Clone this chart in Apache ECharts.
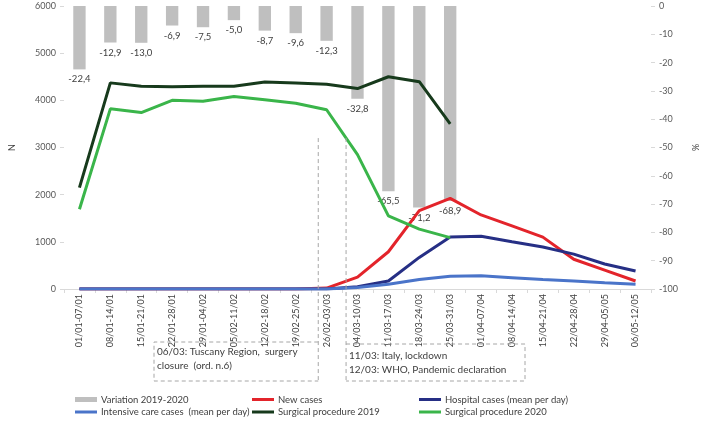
<!DOCTYPE html>
<html>
<head>
<meta charset="utf-8">
<script src="https://cdn.jsdelivr.net/npm/echarts@6/dist/echarts.min.js"></script>
<style>html,body{margin:0;padding:0;background:#fff}#c{width:709px;height:421px}</style>
</head>
<body>
<div id="c"></div>
<script>
const categories = ['01/01-07/01','08/01-14/01','15/01-21/01','22/01-28/01','29/01-04/02','05/02-11/02','12/02-18/02','19/02-25/02','26/02-03/03','04/03-10/03','11/03-17/03','18/03-24/03','25/03-31/03','01/04-07/04','08/04-14/04','15/04-21/04','22/04-28/04','29/04-05/05','06/05-12/05'];
const variation = [-22.4,-12.9,-13.0,-6.9,-7.5,-5.0,-8.7,-9.6,-12.3,-32.8,-65.5,-71.2,-68.9];
const newCases = [0,0,0,0,0,0,0,0,20,250,790,1660,1920,1570,1340,1100,630,400,170];
const hospital = [0,0,0,0,0,0,0,0,0,50,170,670,1100,1120,1000,890,740,530,380];
const intensive = [0,0,0,0,0,0,0,0,0,30,100,200,270,280,240,200,170,130,100];
const surg2019 = [2150,4370,4300,4290,4300,4300,4390,4370,4340,4250,4500,4395,3500];
const surg2020 = [1690,3820,3740,4000,3980,4080,4010,3940,3800,2850,1550,1270,1090];
const leftTicks = {min:0, max:6000, interval:1000};
const rightTicks = {min:-100, max:0, interval:10};

const FONT = 'Lato';
const chart = echarts.init(document.getElementById('c'), null, {renderer:'canvas'});
const lineS = (name, data, color) => ({
  name, type:'line', data, yAxisIndex:0, symbol:'none', showSymbol:false,
  lineStyle:{color, width:3}, itemStyle:{color}, z:3
});
const leg = (name, left, rowCenter, h) => ({
  left, top: rowCenter - 6, padding:0, orient:'horizontal',
  itemWidth:22, itemHeight:h, itemGap:0, selectedMode:false,
  data:[{name, icon:'rect'}],
  textStyle:{fontFamily:FONT, fontSize:9.5, color:'#404040', lineHeight:12, padding:[0,0,0,-1]}
});
const R1 = 399.5, R2 = 412;
const option = {
  animation:false,
  textStyle:{fontFamily:FONT},
  grid:{left:55, right:46, top:6, bottom:132, containLabel:false},
  xAxis:{
    type:'category', data:categories,
    axisLine:{lineStyle:{color:'#d9d9d9', width:1}},
    axisTick:{show:true, length:4, lineStyle:{color:'#d9d9d9'}},
    axisLabel:{rotate:90, fontSize:9, color:'#404040', fontFamily:FONT, margin:5, interval:0}
  },
  yAxis:[
    {type:'value', min:leftTicks.min, max:leftTicks.max, interval:leftTicks.interval,
     name:'N', nameLocation:'middle', nameGap:47,
     nameTextStyle:{fontSize:9, color:'#404040', fontFamily:FONT},
     axisLine:{show:false}, axisTick:{show:true, length:4, lineStyle:{color:'#d9d9d9'}},
     splitLine:{show:false},
     axisLabel:{fontSize:9, color:'#595959', fontFamily:FONT, margin:8, formatter:v => String(v)}},
    {type:'value', position:'right', min:rightTicks.min, max:rightTicks.max, interval:rightTicks.interval,
     name:'%', nameLocation:'middle', nameGap:41,
     nameTextStyle:{fontSize:9, color:'#404040', fontFamily:FONT},
     axisLine:{show:false}, axisTick:{show:true, length:4, lineStyle:{color:'#d9d9d9'}},
     splitLine:{show:false},
     axisLabel:{fontSize:9, color:'#595959', fontFamily:FONT, margin:8, formatter:v => String(v)}}
  ],
  legend:[
    leg('Variation 2019-2020', 75, R1, 5),
    leg('Intensive care cases  (mean per day)', 75, R2, 3),
    leg('New cases', 252, R1, 3),
    leg('Surgical procedure 2019', 252, R2, 3),
    leg('Hospital cases (mean per day)', 419, R1, 3),
    leg('Surgical procedure 2020', 419, R2, 3)
  ],
  series:[
    {name:'Variation 2019-2020', type:'bar', yAxisIndex:1, data:variation, barWidth:'40%',
     itemStyle:{color:'#bfbfbf'}, z:1,
     label:{show:true, position:'bottom', distance:5, fontSize:9.5, color:'#404040', fontFamily:FONT,
       formatter:p => p.value.toFixed(1).replace('.', ',')}},
    lineS('New cases', newCases, '#e3242b'),
    lineS('Hospital cases (mean per day)', hospital, '#262f85'),
    lineS('Intensive care cases  (mean per day)', intensive, '#4a74c9'),
    lineS('Surgical procedure 2019', surg2019, '#173a1c'),
    lineS('Surgical procedure 2020', surg2020, '#3ab54a')
  ]
};
chart.setOption(option);

// annotation lines positioned between categories via the axis scale
const px = i => chart.convertToPixel({xAxisIndex:0}, i);
const x1 = px(7) + 0.73 * (px(8) - px(7));
const x2 = px(8) + 0.63 * (px(9) - px(8));
const yTop = chart.convertToPixel({yAxisIndex:0}, 3200);
const dash = {stroke:'#a6a6a6', lineWidth:1, lineDash:[4,3], fill:null};
const boxBottom = 381;
chart.setOption({
  graphic:[
    {type:'line', shape:{x1:x1, y1:yTop, x2:x1, y2:boxBottom}, style:dash, z:10},
    {type:'line', shape:{x1:x2, y1:yTop, x2:x2, y2:boxBottom}, style:dash, z:10},
    {type:'polyline', shape:{points:[[x1,342],[154,342],[154,boxBottom],[x1,boxBottom]]}, style:dash, z:10},
    {type:'polyline', shape:{points:[[x2,344],[525,344],[525,boxBottom],[x2,boxBottom]]}, style:dash, z:10},
    {type:'text', x:157, y:345.5, style:{text:'06/03: Tuscany Region,  surgery\nclosure  (ord. n.6)', font:'10px Lato', fill:'#404040', lineHeight:13.5}, z:10},
    {type:'text', x:349, y:349.5, style:{text:'11/03: Italy, lockdown\n12/03: WHO, Pandemic declaration', font:'10px Lato', fill:'#404040', lineHeight:13.5}, z:10}
  ]
});
</script>
</body>
</html>
